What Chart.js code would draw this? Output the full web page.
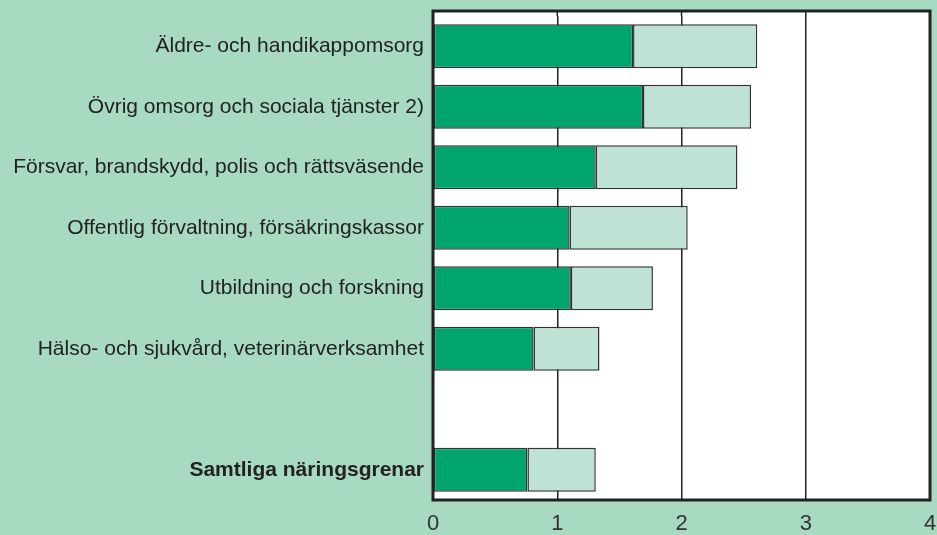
<!DOCTYPE html>
<html>
<head>
<meta charset="utf-8">
<script src="https://cdn.jsdelivr.net/npm/chart.js@4"></script>
<style>
  html, body { margin: 0; padding: 0; background: #a8d9c1; }
  #wrap { width: 937px; height: 535px; position: relative; }
</style>
</head>
<body>
<div id="wrap"><canvas id="c"></canvas></div>
<script>
// categories (empty slot before the total row)
const categories = [
  'Äldre- och handikappomsorg',
  'Övrig omsorg och sociala tjänster 2)',
  'Försvar, brandskydd, polis och rättsväsende',
  'Offentlig förvaltning, försäkringskassor',
  'Utbildning och forskning',
  'Hälso- och sjukvård, veterinärverksamhet',
  '',
  'Samtliga näringsgrenar'
];
const darkPart  = [1.61, 1.69, 1.31, 1.10, 1.11, 0.81, null, 0.76];
const lightPart = [1.00, 0.87, 1.14, 0.95, 0.66, 0.53, null, 0.55];
const xTicks = [0, 1, 2, 3, 4];

const frame = {
  id: 'frame',
  beforeDraw(chart) {
    const { ctx, chartArea: a } = chart;
    ctx.save();
    ctx.fillStyle = '#fff';
    ctx.fillRect(a.left, a.top - 5, a.right - a.left, a.bottom - a.top + 5);
    ctx.restore();
  },
  beforeDatasetsDraw(chart) {
    // extend vertical grid lines up to the frame top
    const { ctx, chartArea: a, scales } = chart;
    ctx.save();
    ctx.strokeStyle = '#222';
    ctx.lineWidth = 1.5;
    xTicks.slice(1, -1).forEach(v => {
      const x = scales.x.getPixelForValue(v);
      ctx.beginPath();
      ctx.moveTo(x, a.top - 5);
      ctx.lineTo(x, a.top);
      ctx.stroke();
    });
    ctx.restore();
  },
  afterDraw(chart) {
    const { ctx, chartArea: a } = chart;
    ctx.save();
    ctx.strokeStyle = '#222';
    ctx.lineWidth = 3;
    ctx.strokeRect(a.left, a.top - 5, a.right - a.left, a.bottom - a.top + 5);
    ctx.restore();
  }
};

new Chart(document.getElementById('c'), {
  type: 'bar',
  data: {
    labels: categories,
    datasets: [
      { data: darkPart, backgroundColor: '#00a56d', borderColor: '#333', borderWidth: 1.5, borderSkipped: false },
      { data: lightPart, backgroundColor: '#bee3d4', borderColor: '#333', borderWidth: 1.5, borderSkipped: false }
    ]
  },
  options: {
    indexAxis: 'y',
    responsive: true,
    maintainAspectRatio: false,
    animation: false,
    layout: { padding: { top: 16, right: 0, left: 0, bottom: 0 } },
    datasets: { bar: { barPercentage: 0.73, categoryPercentage: 1 } },
    plugins: { legend: { display: false }, tooltip: { enabled: false } },
    scales: {
      x: {
        stacked: true, min: 0, max: 4,
        afterBuildTicks: s => { s.ticks = xTicks.map(v => ({ value: v })); },
        afterFit: s => { s.height = 35; s.paddingRight = 7; s.paddingLeft = 0; },
        grid: { color: '#222', lineWidth: 1.5, drawTicks: false },
        border: { display: false },
        ticks: { color: '#333', padding: 11, font: { family: 'Liberation Sans, Arial, sans-serif', size: 22 } }
      },
      y: {
        stacked: true,
        afterFit: s => { s.width = 433; s.paddingTop = 0; s.paddingBottom = 0; },
        grid: { display: false, drawTicks: false },
        border: { display: false },
        ticks: {
          color: '#222', padding: 9,
          font: ctx => ({
            family: 'Liberation Sans, Arial, sans-serif',
            size: 21,
            weight: ctx.index === 7 ? 'bold' : 'normal'
          })
        }
      }
    }
  },
  plugins: [frame]
});
</script>
</body>
</html>
